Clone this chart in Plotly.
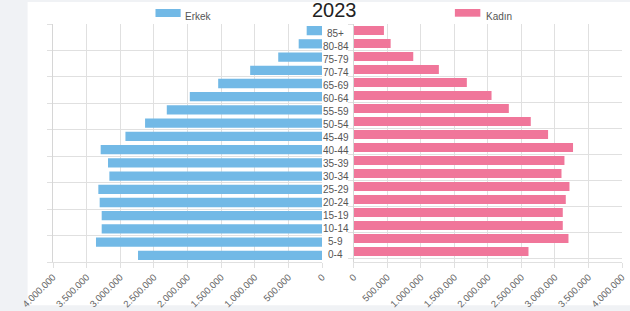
import plotly.graph_objects as go

# ---- data ----
age_groups = ["0-4", "5-9", "10-14", "15-19", "20-24", "25-29", "30-34", "35-39",
              "40-44", "45-49", "50-54", "55-59", "60-64", "65-69", "70-74",
              "75-79", "80-84", "85+"]
erkek = [2736000, 3361000, 3276000, 3276000, 3306000, 3326000, 3162000, 3182000,
         3291000, 2923000, 2631000, 2308000, 1966000, 1544000, 1068000,
         651000, 347000, 228000]
kadin = [2606000, 3202000, 3117000, 3117000, 3162000, 3217000, 3098000, 3142000,
         3270000, 2898000, 2640000, 2313000, 2055000, 1687000, 1270000,
         888000, 551000, 451000]
tick_vals = [0, 500000, 1000000, 1500000, 2000000, 2500000, 3000000, 3500000, 4000000]
title_text = "2023"
series_names = ["Erkek", "Kadın"]
colors = ["#72b9e6", "#f0769a"]

# ---- geometry helpers (pixel -> paper) ----
W, H = 630, 311
ML, MR, MT, MB = 52.7, 7.7, 24.0, 49.3
PW = W - ML - MR
PH = H - MT - MB


def px(x):
    return (x - ML) / PW


def py(y):
    return (H - MB - y) / PH


grid = "#e0e0e0"
tickfont = dict(family="Liberation Sans, Arial, sans-serif", size=9.5, color="#666")

fig = go.Figure()
fig.add_trace(go.Bar(y=age_groups, x=erkek, orientation="h", name=series_names[0],
                     marker=dict(color=colors[0], line=dict(width=0)),
                     xaxis="x", yaxis="y", showlegend=False, hoverinfo="x+y"))
fig.add_trace(go.Bar(y=age_groups, x=kadin, orientation="h", name=series_names[1],
                     marker=dict(color=colors[1], line=dict(width=0)),
                     xaxis="x2", yaxis="y2", showlegend=False, hoverinfo="x+y"))

xcommon = dict(tickvals=tick_vals, tickformat=",", tickangle=-45, tickfont=tickfont,
               showgrid=True, gridcolor=grid, gridwidth=1, ticks="outside", ticklen=5,
               tickcolor=grid, showline=True, linecolor=grid, zeroline=False,
               fixedrange=True, automargin=False)
ycommon = dict(type="category", categoryorder="array", categoryarray=age_groups,
               tickson="boundaries", showgrid=True, gridcolor=grid, gridwidth=1,
               ticks="outside", ticklen=5, tickcolor=grid, showticklabels=False,
               showline=True, linecolor="#d6d6d6", zeroline=False, fixedrange=True,
               automargin=False)

fig.update_layout(
    width=W, height=H,
    margin=dict(l=ML, r=MR, t=MT, b=MB, pad=0, autoexpand=False),
    paper_bgcolor="#f0f2f5",
    plot_bgcolor="white",
    separators=",.",
    bargap=0.3,
    xaxis=dict(domain=[0, px(322)], range=[4000000, 0], anchor="y", **xcommon),
    xaxis2=dict(domain=[px(353.7), 1], range=[0, 4000000], anchor="y2", **xcommon),
    yaxis=dict(domain=[0, 1], anchor="x", **ycommon),
    yaxis2=dict(domain=[0, 1], anchor="x2", **ycommon),
    showlegend=False,
    font=dict(family="Liberation Sans, Arial, sans-serif"),
)

shapes = [
    # white card
    dict(type="rect", xref="paper", yref="paper", x0=px(27.3), x1=px(632),
         y0=py(305), y1=py(2), fillcolor="white", line=dict(width=0), layer="below"),
    # legend swatches
    dict(type="rect", xref="paper", yref="paper", x0=px(155.3), x1=px(180.5),
         y0=py(17), y1=py(9), fillcolor=colors[0], line=dict(width=0)),
    dict(type="rect", xref="paper", yref="paper", x0=px(455), x1=px(480.5),
         y0=py(16.7), y1=py(9), fillcolor=colors[1], line=dict(width=0)),
]

annotations = [
    dict(text=title_text, xref="paper", yref="paper", x=px(334), y=py(10.5),
         xanchor="center", yanchor="middle", showarrow=False,
         font=dict(size=20, color="#222")),
    dict(text=series_names[0], xref="paper", yref="paper", x=px(183), y=py(16.5),
         xanchor="left", yanchor="middle", showarrow=False,
         font=dict(size=10, color="#555")),
    dict(text=series_names[1], xref="paper", yref="paper", x=px(484.5), y=py(16.5),
         xanchor="left", yanchor="middle", showarrow=False,
         font=dict(size=10, color="#555")),
]
for g in age_groups:
    annotations.append(dict(text=g, xref="paper", yref="y2", x=px(335.5), y=g,
                            xanchor="center", yanchor="middle", yshift=-3,
                            showarrow=False, font=dict(size=10, color="#555")))

fig.update_layout(shapes=shapes, annotations=annotations)
fig.write_html(
    "out.html",
    config={"displayModeBar": False},
    post_script="document.body.style.margin='0';document.body.style.padding='0';"
                "document.body.style.background='#f0f2f5';",
)
